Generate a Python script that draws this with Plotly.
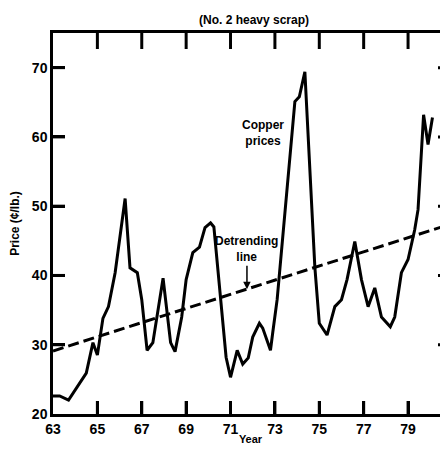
import plotly.graph_objects as go

# Copper scrap prices (No. 2 heavy scrap), cents/lb
years = [63.0, 63.3, 63.7, 64.35, 64.5, 64.8, 65.0, 65.25, 65.5, 65.8, 66.25, 66.47, 66.8,
         67.0, 67.24, 67.5, 67.96, 68.3, 68.5, 68.8, 69.0, 69.3, 69.6, 69.85, 70.1, 70.25,
         70.8, 71.0, 71.3, 71.55, 71.8, 72.0, 72.3, 72.45, 72.8, 72.9, 73.1, 73.9, 74.1,
         74.35, 74.8, 75.0, 75.35, 75.7, 76.0, 76.25, 76.6, 76.9, 77.2, 77.5, 77.8, 78.2,
         78.4, 78.7, 79.0, 79.3, 79.45, 79.7, 79.9, 80.1]
prices = [22.6, 22.6, 22.0, 25.3, 25.9, 30.3, 28.5, 33.8, 35.5, 40.4, 51.1, 41.1, 40.4,
          36.5, 29.2, 30.3, 39.6, 30.3, 29.0, 34.0, 39.4, 43.3, 44.1, 46.9, 47.6, 47.0,
          28.2, 25.3, 29.2, 27.2, 28.1, 31.1, 33.1, 32.4, 29.2, 31.7, 36.5, 65.1, 65.8,
          69.4, 41.2, 33.1, 31.4, 35.5, 36.5, 39.4, 44.9, 39.4, 35.5, 38.2, 34.0, 32.6,
          34.0, 40.4, 42.3, 46.6, 49.5, 63.2, 58.9, 62.8]

trend_years = [63.0, 81.0]
trend_values = [29.1, 47.5]

x_ticks = [63, 65, 67, 69, 71, 73, 75, 77, 79, 81]
y_ticks = [20, 30, 40, 50, 60, 70]

X_RANGE = [63, 80.8]
Y_RANGE = [20, 75]

FONT = "Liberation Sans Narrow, Arial Narrow, Liberation Sans, Arial, sans-serif"

# the page body has an 8px default margin, so the figure is sized to compensate
W, H = 440, 438
ML, MR, MT, MB = 45, 0, 25, 32
px_per_x = (W - ML - MR) / (X_RANGE[1] - X_RANGE[0])
px_per_y = (H - MT - MB) / (Y_RANGE[1] - Y_RANGE[0])

fig = go.Figure()

# inward tick marks on all four sides, one short segment trace per tick
for v in x_ticks:
    if X_RANGE[0] < v < X_RANGE[1]:
        fig.add_trace(go.Scatter(x=[v, v], y=[Y_RANGE[0], Y_RANGE[0] + 13 / px_per_y],
                                 mode="lines", line=dict(color="black", width=3),
                                 hoverinfo="skip", showlegend=False, cliponaxis=False))
        fig.add_trace(go.Scatter(x=[v, v], y=[Y_RANGE[1], Y_RANGE[1] - 16 / px_per_y],
                                 mode="lines", line=dict(color="black", width=3),
                                 hoverinfo="skip", showlegend=False, cliponaxis=False))
for v in y_ticks:
    if Y_RANGE[0] < v < Y_RANGE[1]:
        fig.add_trace(go.Scatter(x=[X_RANGE[0], X_RANGE[0] + 12 / px_per_x], y=[v, v],
                                 mode="lines", line=dict(color="black", width=3),
                                 hoverinfo="skip", showlegend=False, cliponaxis=False))
        fig.add_trace(go.Scatter(x=[X_RANGE[1], X_RANGE[1] - 10 / px_per_x], y=[v, v],
                                 mode="lines", line=dict(color="black", width=3),
                                 hoverinfo="skip", showlegend=False, cliponaxis=False))

fig.add_trace(go.Scatter(x=years, y=prices, mode="lines",
                         line=dict(color="black", width=3), hoverinfo="skip", showlegend=False))
fig.add_trace(go.Scatter(x=trend_years, y=trend_values, mode="lines",
                         line=dict(color="black", width=3, dash="11px,5px"),
                         hoverinfo="skip", showlegend=False))

fig.update_layout(
    width=W, height=H, autosize=False,
    margin=dict(l=ML, r=MR, t=MT, b=MB, pad=0),
    paper_bgcolor="white", plot_bgcolor="white",
    font=dict(family=FONT, color="black", size=12, weight="bold"),
    title=dict(text="(No. 2 heavy scrap)", x=246 / W, xanchor="center",
               y=1 - 12 / H, yanchor="middle", font=dict(size=12, family=FONT, weight="bold")),
    xaxis=dict(range=X_RANGE, tickmode="array", tickvals=x_ticks,
               ticktext=[str(v) for v in x_ticks], ticks="inside", ticklen=13, tickwidth=3,
               tickcolor="black",
               showline=True, linewidth=2.5, linecolor="black", mirror=True,
               showgrid=False, zeroline=False, automargin=False,
               tickfont=dict(size=14, family=FONT, weight="bold"),
               title=dict(text="Year", standoff=0, font=dict(size=11, family=FONT, weight="bold"))),
    yaxis=dict(range=Y_RANGE, tickmode="array", tickvals=y_ticks,
               ticktext=[str(v) for v in y_ticks], ticks="inside", ticklen=12, tickwidth=3,
               tickcolor="black",
               showline=True, linewidth=2.5, linecolor="black",
               showgrid=False, zeroline=False, automargin=False,
               tickfont=dict(size=14, family=FONT, weight="bold"),
               title=dict(text="Price (¢/lb.)", standoff=12, font=dict(size=12, family=FONT, weight="bold"))),
    annotations=[
        dict(x=72.46, y=60.5, xref="x", yref="y", text="Copper<br>prices", showarrow=False,
             font=dict(size=12, family=FONT, weight="bold"), align="center"),
        dict(x=71.74, y=38.0, xref="x", yref="y", text="Detrending<br>line", showarrow=True,
             ax=0, ay=-40, arrowhead=2, arrowsize=1, arrowwidth=1.5, arrowcolor="black",
             font=dict(size=12, family=FONT, weight="bold"), align="center"),
    ],
)

fig.write_html("out.html")
